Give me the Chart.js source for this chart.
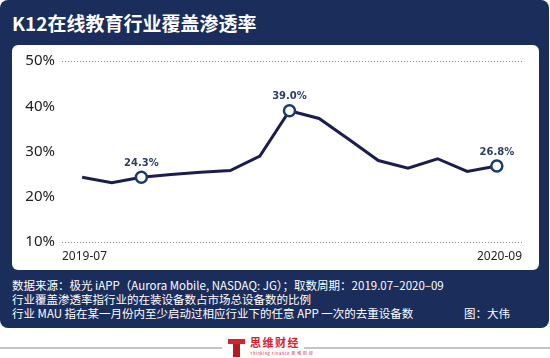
<!DOCTYPE html>
<html>
<head>
<meta charset="utf-8">
<script src="https://cdn.jsdelivr.net/npm/chart.js@4.4.1/dist/chart.umd.min.js"></script>
<style>
  body { margin: 0; width: 550px; height: 358px; background: #fff; position: relative; overflow: hidden; font-family: "Noto Sans CJK SC", "Noto Sans", sans-serif; }
  .navy { position: absolute; left: 0; top: 0; width: 549px; height: 328px; background: #1b2d5b; border-radius: 8px; }
  .title { position: absolute; left: 12px; top: 9px; color: #fff; font-size: 19px; font-weight: bold; letter-spacing: 0; }
  .panel { position: absolute; left: 12px; top: 45px; width: 527px; height: 225px; background: #fff; border-radius: 6px; }
  .foot { position: absolute; left: 12px; top: 278px; color: #fff; font-size: 11.5px; line-height: 14px; white-space: nowrap; }
  .credit { position: absolute; left: 464px; top: 306px; color: #fff; font-size: 11.5px; line-height: 14px; }
  .rule { position: absolute; top: 347px; height: 2px; background: #c4c4c4; }
  .logo-t1 { position: absolute; left: 228px; top: 339px; width: 17px; height: 5px; background: #d8222a; }
  .logo-t2 { position: absolute; left: 233px; top: 344px; width: 7px; height: 13px; background: #b51c22; }
  .brand { position: absolute; left: 250px; top: 334px; color: #d8222a; font-size: 11px; font-weight: bold; letter-spacing: 1.5px; }
  .brand-sub { position: absolute; left: 250px; top: 350px; color: #d8222a; font-size: 4px; letter-spacing: 0.5px; white-space: nowrap; }
</style>
</head>
<body>
<div class="navy"></div>
<div class="title">K12在线教育行业覆盖渗透率</div>
<div class="panel"><canvas id="chart"></canvas></div>
<div class="foot">
  数据来源：极光 iAPP（Aurora Mobile, NASDAQ: JG）；取数周期：2019.07–2020–09<br>
  行业覆盖渗透率指行业的在装设备数占市场总设备数的比例<br>
  行业 MAU 指在某一月份内至少启动过相应行业下的任意 APP 一次的去重设备数
</div>
<div class="credit">图：大伟</div>
<div class="rule" style="left:0; width:222px;"></div>
<div class="rule" style="left:304px; width:246px;"></div>
<div class="logo-t1"></div>
<div class="logo-t2"></div>
<div class="brand">思维财经</div>
<div class="brand-sub">Thinking Finance 思 维 财 经</div>
<script>
  // months 2019-07 .. 2020-09
  const months = ['2019-07', '2019-08', '2019-09', '2019-10', '2019-11', '2019-12', '2020-01', '2020-02',
    '2020-03', '2020-04', '2020-05', '2020-06', '2020-07', '2020-08', '2020-09'];
  // coverage penetration rate, %
  const rates = [24.3, 23.1, 24.3, 24.9, 25.4, 25.8, 29.0, 39.0, 37.3, 32.7, 28.0, 26.3, 28.4, 25.6, 26.8];
  // points that get a marker + value label
  const labelled = [2, 7, 14];
  const yTicks = [10, 20, 30, 40, 50];

  const navyLine = '#1c1d4f';
  const markerBlue = '#1a3b6e';

  const valueLabels = {
    id: 'valueLabels',
    afterDatasetsDraw(chart) {
      const ctx = chart.ctx;
      const meta = chart.getDatasetMeta(0);
      ctx.save();
      ctx.font = 'bold 10px "DejaVu Sans"';
      ctx.fillStyle = '#2b3f66';
      ctx.textAlign = 'center';
      ctx.textBaseline = 'middle';
      labelled.forEach(i => {
        const p = meta.data[i];
        ctx.fillText(rates[i].toFixed(1) + '%', p.x, p.y - 14);
      });
      ctx.restore();
    }
  };

  new Chart(document.getElementById('chart'), {
    type: 'line',
    data: {
      datasets: [{
        data: rates.map((v, i) => ({ x: i, y: v })),
        borderColor: navyLine,
        borderWidth: 3,
        tension: 0,
        pointRadius: rates.map((v, i) => labelled.includes(i) ? 5.5 : 0),
        pointBackgroundColor: '#fff',
        pointBorderColor: markerBlue,
        pointBorderWidth: 2.5
      }]
    },
    options: {
      responsive: true,
      maintainAspectRatio: false,
      animation: false,
      layout: { padding: { top: 14, right: 17, left: 0, bottom: 0 } },
      plugins: { legend: { display: false }, tooltip: { enabled: false } },
      scales: {
        x: {
          type: 'linear',
          min: -0.68,
          max: 14.85,
          afterBuildTicks: s => { s.ticks = [{ value: s.min }, { value: s.max }]; },
          afterFit: s => { s.height = 28; },
          grid: { display: false, drawTicks: false },
          border: { display: false },
          ticks: {
            align: 'inner',
            padding: 7,
            maxRotation: 0,
            color: '#222',
            font: { family: '"Noto Sans"', size: 12 },
            callback: (v, i) => i === 0 ? months[0] : months[months.length - 1]
          }
        },
        y: {
          min: yTicks[0],
          max: yTicks[yTicks.length - 1],
          afterBuildTicks: s => { s.ticks = yTicks.map(v => ({ value: v })); },
          afterFit: s => { s.width = 50; },
          grid: {
            drawTicks: false,
            lineWidth: 1,
            color: c => (c.tick && (c.tick.value === 10 || c.tick.value === 50)) ? '#8a8a8a' : 'rgba(0,0,0,0)'
          },
          border: { display: false, dash: [1, 2] },
          ticks: {
            padding: 7,
            color: '#222',
            font: { family: '"Noto Sans"', size: 15 },
            callback: v => v + '%'
          }
        }
      }
    },
    plugins: [valueLabels]
  });
</script>
</body>
</html>
